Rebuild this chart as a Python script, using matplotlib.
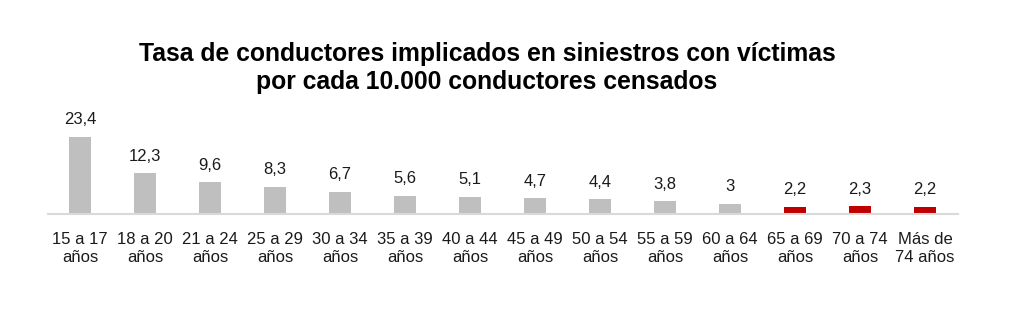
import matplotlib
matplotlib.use("Agg")
import matplotlib.pyplot as plt

plt.rcParams['font.family'] = ['Liberation Sans', 'DejaVu Sans']

# data
categories = ['15 a 17\naños', '18 a 20\naños', '21 a 24\naños', '25 a 29\naños',
              '30 a 34\naños', '35 a 39\naños', '40 a 44\naños', '45 a 49\naños',
              '50 a 54\naños', '55 a 59\naños', '60 a 64\naños', '65 a 69\naños',
              '70 a 74\naños', 'Más de\n74 años']
values = [23.4, 12.3, 9.6, 8.3, 6.7, 5.6, 5.1, 4.7, 4.4, 3.8, 3.0, 2.2, 2.3, 2.2]
value_labels = ['23,4', '12,3', '9,6', '8,3', '6,7', '5,6', '5,1', '4,7',
                '4,4', '3,8', '3', '2,2', '2,3', '2,2']
highlight = [False] * 11 + [True] * 3

W, H = 1024, 314
fig = plt.figure(figsize=(W / 100, H / 100), dpi=100)
fig.patch.set_facecolor('white')

left, right = 47.5, 957.5
base_y, top_y = 214, 131.5
ax = fig.add_axes([left / W, (H - base_y) / H, (right - left) / W, (base_y - top_y) / H])

x = list(range(len(values)))
colors = ['#c00000' if h else '#bfbfbf' for h in highlight]
ax.bar(x, values, width=0.33, color=colors, zorder=2)
ax.set_xlim(-0.5, len(values) - 0.5)
ax.set_ylim(0, 25)

for xi, v, lab in zip(x, values, value_labels):
    ax.annotate(lab, (xi, v), xytext=(0, 7), textcoords='offset points',
                ha='center', va='bottom', fontsize=12, color='#1a1a1a')

ax.set_xticks(x)
ax.set_xticklabels(categories, fontsize=12, color='#1a1a1a', linespacing=1.25)
ax.tick_params(axis='x', length=0, pad=13)
ax.set_yticks([])
for s in ['top', 'right', 'left']:
    ax.spines[s].set_visible(False)
ax.spines['bottom'].set_color('#d9d9d9')
ax.spines['bottom'].set_linewidth(1.5)
ax.patch.set_alpha(0)

fig.text(487 / W, 1 - 89 / H, 'Tasa de conductores implicados en siniestros con víctimas\npor cada 10.000 conductores censados',
         ha='center', va='baseline', fontsize=17.8, fontweight='bold', color='black',
         linespacing=1.2)

fig.savefig('out.png', dpi=100)
